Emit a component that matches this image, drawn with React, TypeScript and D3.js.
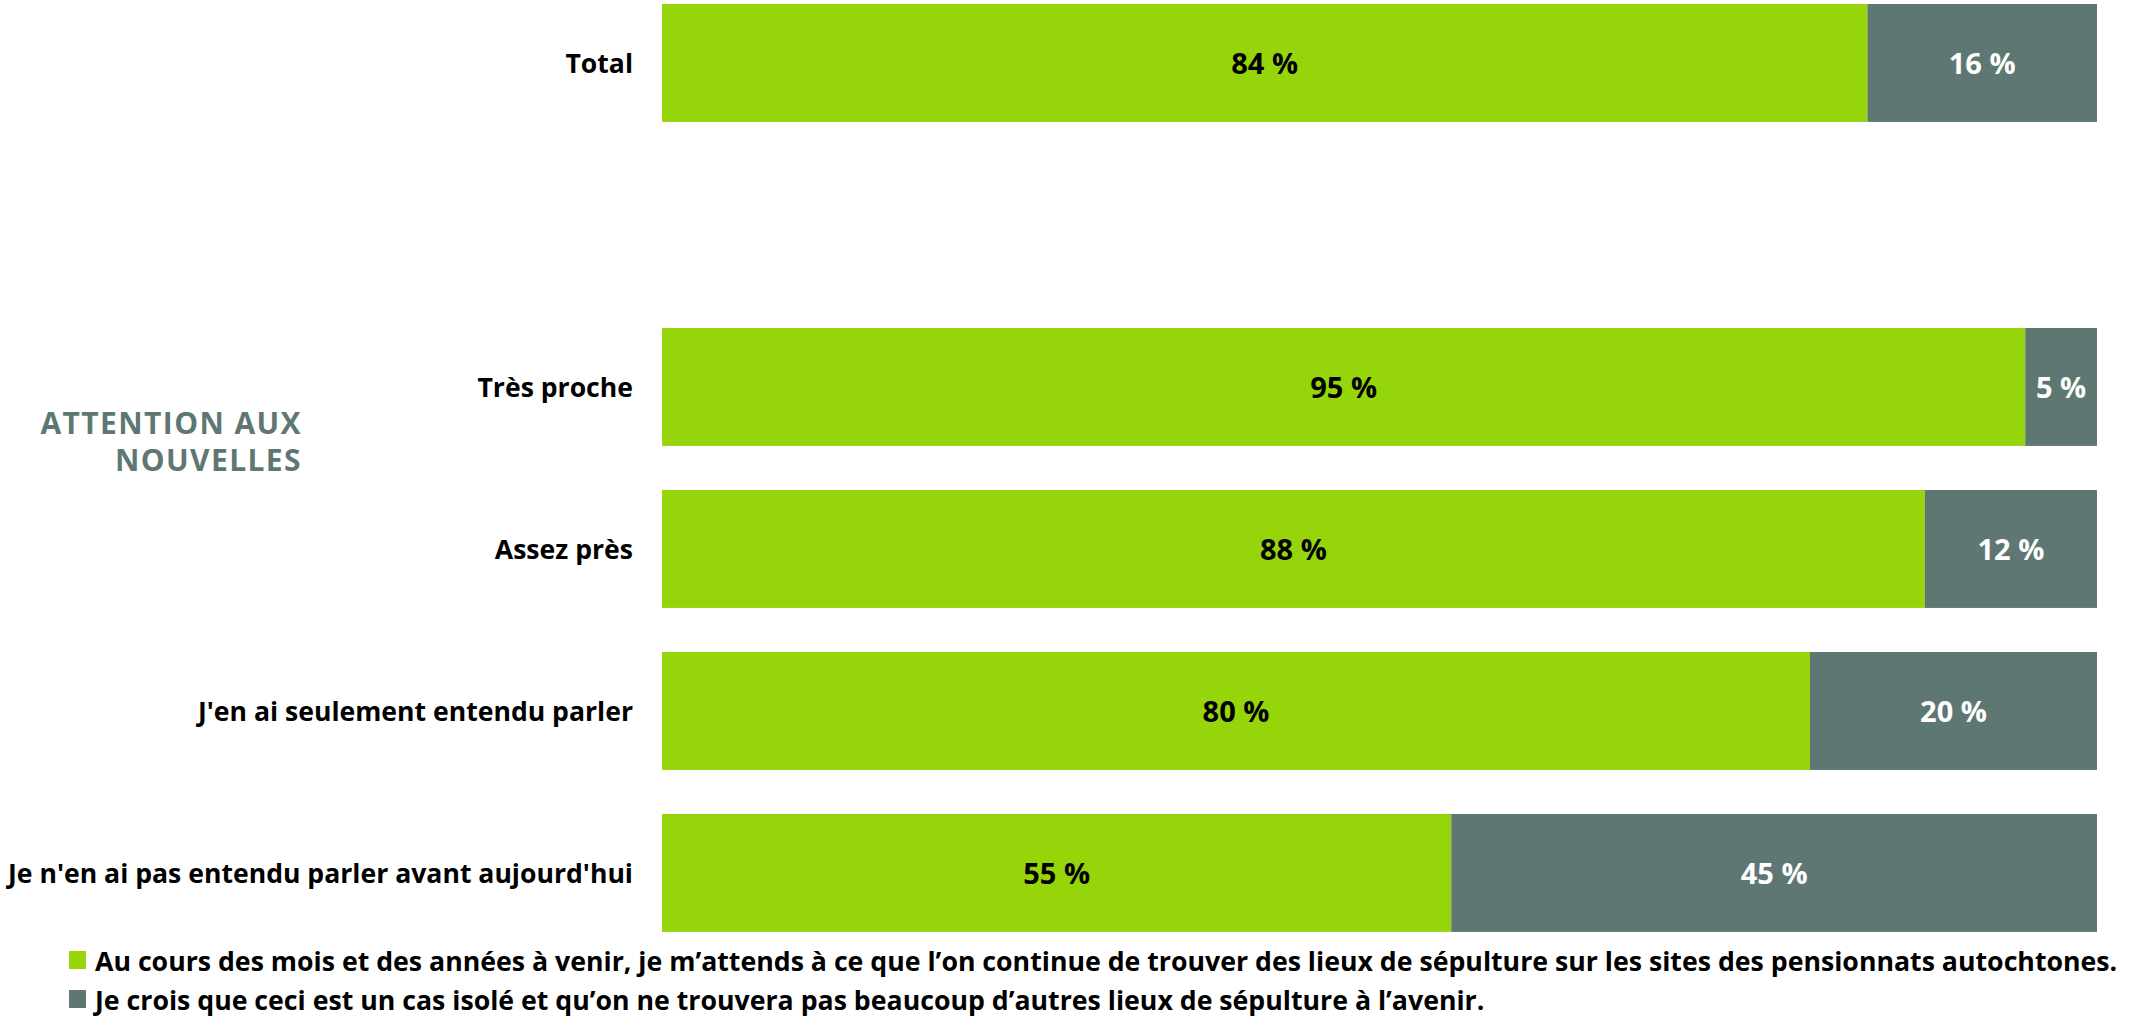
import React, { useEffect, useRef } from "react";
import * as d3 from "d3";

const categories = [
    "Total",
    "Très proche",
    "Assez près",
    "J'en ai seulement entendu parler",
    "Je n'en ai pas entendu parler avant aujourd'hui",
];
const expectMore = [84, 95, 88, 80, 55];
const isolatedCase = [16, 5, 12, 20, 45];
const seriesNames = [
    "Au cours des mois et des années à venir, je m’attends à ce que l’on continue de trouver des lieux de sépulture sur les sites des pensionnats autochtones.",
    "Je crois que ceci est un cas isolé et qu’on ne trouvera pas beaucoup d’autres lieux de sépulture à l’avenir.",
];
const groupLabel = ["ATTENTION AUX", "NOUVELLES"];

const GREEN = "#97d50b";
const GREY = "#5f7773";
const FONT = "'Open Sans', Lato, sans-serif";

function drawChart(element: SVGSVGElement) {
    const width = 2131;
    const margin = { top: 4, left: 662, right: 34 };

    const svg = d3.select(element)
    svg.selectAll("*").remove()

    // spacer slot between Total and the group
    const rows = [categories[0], "__gap", ...categories.slice(1)]
    const y = d3.scaleBand()
        .domain(rows)
        .range([margin.top, margin.top + 162 * (rows.length - 0.272)])
        .paddingInner(0.272)
        .paddingOuter(0)

    const x = d3.scaleLinear()
        .domain([0, 100])
        .range([margin.left, width - margin.right])

    const data = categories.map((name, i) => ({ name, a: expectMore[i], b: isolatedCase[i] }))

    const g = svg.append("g")

    // green segments
    g.selectAll("rect.a")
        .data(data)
        .enter()
        .append("rect")
        .attr("class", "a")
        .attr("x", x(0))
        .attr("y", d => y(d.name))
        .attr("width", d => x(d.a) - x(0))
        .attr("height", y.bandwidth())
        .attr("fill", GREEN)

    // grey segments
    g.selectAll("rect.b")
        .data(data)
        .enter()
        .append("rect")
        .attr("class", "b")
        .attr("x", d => x(d.a))
        .attr("y", d => y(d.name))
        .attr("width", d => x(d.a + d.b) - x(d.a))
        .attr("height", y.bandwidth())
        .attr("fill", GREY)

    // value labels
    g.selectAll("text.va")
        .data(data)
        .enter()
        .append("text")
        .attr("x", d => (x(0) + x(d.a)) / 2)
        .attr("y", d => y(d.name) + y.bandwidth() / 2)
        .attr("text-anchor", "middle")
        .attr("dominant-baseline", "central")
        .attr("font-family", FONT)
        .attr("font-weight", 700)
        .attr("font-size", 29)
        .attr("fill", "#000")
        .text(d => d.a + " %")

    g.selectAll("text.vb")
        .data(data)
        .enter()
        .append("text")
        .attr("x", d => (x(d.a) + x(d.a + d.b)) / 2)
        .attr("y", d => y(d.name) + y.bandwidth() / 2)
        .attr("text-anchor", "middle")
        .attr("dominant-baseline", "central")
        .attr("font-family", FONT)
        .attr("font-weight", 700)
        .attr("font-size", 29)
        .attr("fill", "#fff")
        .text(d => d.b + " %")

    // category labels
    g.selectAll("text.cat")
        .data(data)
        .enter()
        .append("text")
        .attr("x", margin.left - 29)
        .attr("y", d => y(d.name) + y.bandwidth() / 2)
        .attr("text-anchor", "end")
        .attr("dominant-baseline", "central")
        .attr("font-family", FONT)
        .attr("font-weight", 700)
        .attr("font-size", 26.6)
        .attr("fill", "#000")
        .text(d => d.name)

    // group label, two separate lines
    g.selectAll("text.group")
        .data(groupLabel)
        .enter()
        .append("text")
        .attr("x", 302)
        .attr("y", (d, i) => 434 + i * 37)
        .attr("text-anchor", "end")
        .attr("font-family", FONT)
        .attr("font-weight", 700)
        .attr("font-size", 30)
        .attr("letter-spacing", 1.4)
        .attr("fill", GREY)
        .text(d => d)

    // legend
    const legend = g.selectAll("g.legend")
        .data(seriesNames)
        .enter()
        .append("g")
        .attr("transform", (d, i) => "translate(69," + (960 + i * 39) + ")")

    legend.append("rect")
        .attr("x", 0)
        .attr("y", -9)
        .attr("width", 17)
        .attr("height", 18)
        .attr("fill", (d, i) => i === 0 ? GREEN : GREY)

    legend.append("text")
        .attr("x", 26)
        .attr("y", 0)
        .attr("dominant-baseline", "central")
        .attr("font-family", FONT)
        .attr("font-weight", 700)
        .attr("font-size", 26.7)
        .attr("fill", "#000")
        .text(d => d)
}

export default function App() {
    const ref = useRef<SVGSVGElement>(null)
    useEffect(() => {
        if (ref.current) drawChart(ref.current)
    }, [])
    return (
        <svg ref={ref} width={2131} height={1017}
            style={{ position: "absolute", left: 0, top: 0, background: "#fff" }} />
    )
}
